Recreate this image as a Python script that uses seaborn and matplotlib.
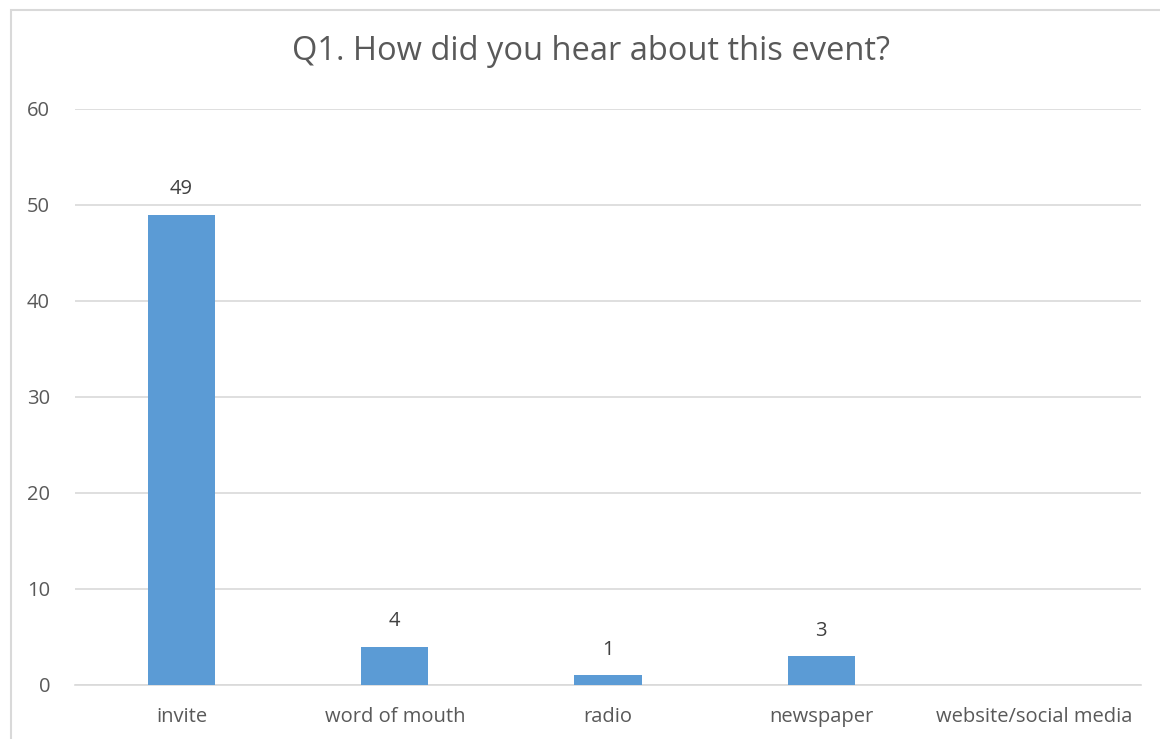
import matplotlib
matplotlib.use("Agg")
import matplotlib.pyplot as plt
import seaborn as sns
import pandas as pd
from matplotlib.patches import Rectangle

categories = ["invite", "word of mouth", "radio", "newspaper", "website/social media"]
counts = [49, 4, 1, 3, 0]
yticks = [0, 10, 20, 30, 40, 50, 60]
title = "Q1. How did you hear about this event?"

sns.set_theme(style="white")
plt.rcParams['font.family'] = ['Open Sans', 'DejaVu Sans']

df = pd.DataFrame({"category": categories, "count": counts})

fig = plt.figure(figsize=(11.6, 7.39), dpi=100)
ax = fig.add_axes([75/1160, 1-685/739, (1141-75)/1160, (685-109)/739])

sns.barplot(data=df, x="category", y="count", order=categories, color="#5B9BD5",
            width=0.315, saturation=1, ax=ax, zorder=3, linewidth=0)

ax.set_ylim(0, 60)
ax.set_xlim(-0.5, len(categories) - 0.5)
ax.set_yticks(yticks)
ax.yaxis.grid(True, color="#D9D9D9", linewidth=1.2, zorder=0)
ax.xaxis.grid(False)
for s in ["top", "right", "left"]:
    ax.spines[s].set_visible(False)
ax.spines["bottom"].set_color("#D9D9D9")
ax.spines["bottom"].set_linewidth(1.2)
ax.set_xlabel("")
ax.set_ylabel("")
ax.tick_params(axis="both", length=0, labelsize=14.5, labelcolor="#595959")
ax.tick_params(axis="y", pad=18)
ax.tick_params(axis="x", pad=16)

for i, v in enumerate(counts):
    if v:
        ax.annotate(str(v), (i, v), xytext=(0, 11), textcoords="offset points",
                    ha="center", va="bottom", fontsize=14.5, color="#404040")

fig.text(591/1160, 1-52/739, title, ha="center", va="center", fontsize=23.5, color="#595959")

fig.patches.append(Rectangle((11/1160, -0.1), 1.2, 1.1 - 10/739, transform=fig.transFigure,
                             fill=False, edgecolor="#D9D9D9", linewidth=1.5))

fig.savefig("out.png", dpi=100)
